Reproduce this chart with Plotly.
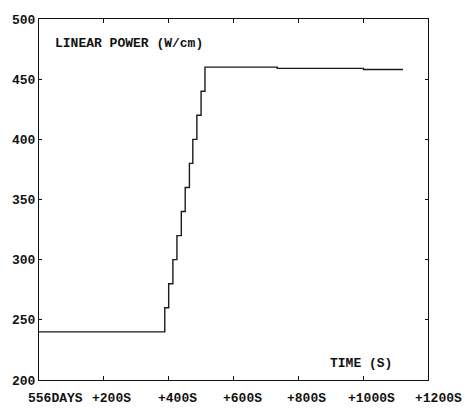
import plotly.graph_objects as go

# Linear power history around the ramp (time in seconds after 556 days)
time_s = [0, 388, 388, 400, 400, 413, 413, 425.5, 425.5, 439, 439, 451, 451,
          464, 464, 474.5, 474.5, 487, 487, 500, 500, 512, 512, 735, 735,
          1001, 1001, 1123]
power_w_cm = [240, 240, 260, 260, 280, 280, 300, 300, 320, 320, 340, 340, 360,
              360, 380, 380, 400, 400, 420, 420, 440, 440, 460, 460, 459,
              459, 458, 458]

x_tick_vals = [0, 200, 400, 600, 800, 1000, 1200]
x_tick_text = ["556DAYS", "+200S", "+400S", "+600S", "+800S", "+1000S", "+1200S"]
x_label_shift = [16, 8, 9, 9, 8, 8, 10]
y_tick_vals = [200, 250, 300, 350, 400, 450, 500]

FONT = "Liberation Mono"
INK = "#111111"

fig = go.Figure()
fig.add_trace(go.Scatter(
    x=time_s, y=power_w_cm, mode="lines",
    line=dict(color="#1a1a1a", width=1.4),
    hoverinfo="skip", showlegend=False,
))

for v, t, dx in zip(x_tick_vals, x_tick_text, x_label_shift):
    fig.add_annotation(
        x=v, y=0, xref="x", yref="paper", text="<b>%s</b>" % t,
        showarrow=False, xanchor="center", yanchor="top",
        xshift=dx, yshift=-9,
        font=dict(family=FONT, size=13, color=INK),
    )

fig.add_annotation(
    x=0.037, y=0.931, xref="paper", yref="paper",
    text="<b>LINEAR POWER (W/cm)</b>", showarrow=False,
    xanchor="left", yanchor="middle",
    font=dict(family=FONT, size=13, color=INK),
)
fig.add_annotation(
    x=0.829, y=0.047, xref="paper", yref="paper",
    text="<b>TIME (S)</b>", showarrow=False,
    xanchor="center", yanchor="middle",
    font=dict(family=FONT, size=13, color=INK),
)

fig.update_layout(
    width=465, height=408,
    margin=dict(l=36, r=37, t=19, b=28),
    paper_bgcolor="white", plot_bgcolor="white",
    xaxis=dict(
        range=[0, 1200], tickvals=x_tick_vals[1:-1], showticklabels=False,
        ticks="inside", ticklen=4, tickcolor=INK, tickwidth=1,
        showline=True, linecolor=INK, linewidth=1, mirror="ticks",
        showgrid=False, zeroline=False,
    ),
    yaxis=dict(
        range=[200, 500], tickvals=y_tick_vals,
        ticktext=["<b>%d</b>" % v for v in y_tick_vals],
        ticks="inside", ticklen=3, tickcolor=INK, tickwidth=1,
        showline=True, linecolor=INK, linewidth=1, mirror="ticks",
        showgrid=False, zeroline=False,
        tickfont=dict(family=FONT, size=13, color=INK),
    ),
)

fig.write_html("out.html")
